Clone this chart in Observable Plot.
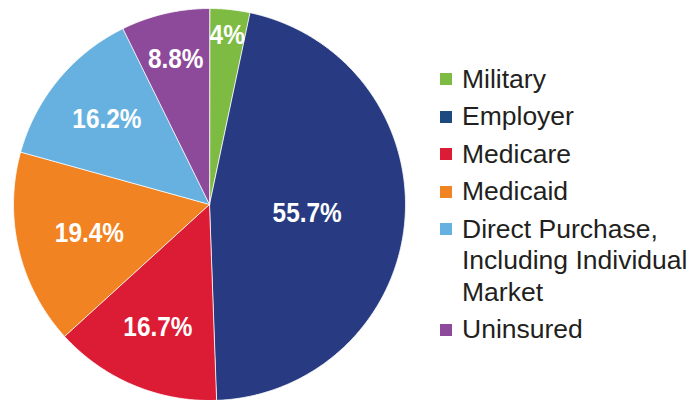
<!DOCTYPE html>
<html>
<head>
<meta charset="utf-8">
<script src="https://cdn.jsdelivr.net/npm/d3@7"></script>
<script src="https://cdn.jsdelivr.net/npm/@observablehq/plot@0.6"></script>
<style>
  html, body { margin: 0; padding: 0; background: #fff; }
  #wrap { position: relative; width: 700px; height: 400px; overflow: hidden; }
  #legend { position: absolute; left: 440px; top: 63.5px; font-family: "Liberation Sans", Arial, Helvetica, sans-serif; font-size: 26.5px; line-height: 31.5px; color: #231f20; white-space: nowrap; }
  .item { display: flex; align-items: flex-start; margin-bottom: 6px; }
  .sw { width: 12px; height: 12px; margin-top: 9.5px; margin-right: 10px; flex: none; }
</style>
</head>
<body>
<div id="wrap"><div id="chart"></div><div id="legend"></div></div>
<script>
// Data
const categories = ["Military", "Employer", "Medicare", "Medicaid", "Direct Purchase, Including Individual Market", "Uninsured"];
const legendLines = [["Military"], ["Employer"], ["Medicare"], ["Medicaid"], ["Direct Purchase,", "Including Individual", "Market"], ["Uninsured"]];
const values = [4, 55.7, 16.7, 19.4, 16.2, 8.8];
const labels = ["4%", "55.7%", "16.7%", "19.4%", "16.2%", "8.8%"];

// Styles / layout
const colors = ["#7dbb42", "#283b82", "#dc1c35", "#f28322", "#67b1e0", "#8e4a9a"];
const legendColors = ["#7dbb42", "#1d4a7e", "#dc1c35", "#f28322", "#67b1e0", "#8e4a9a"];
const labelRadius = [0.87, 0.5, 0.68, 0.63, 0.68, 0.76];

const arcs = d3.pie().sort(null).value(d => d)(values);

// Slice outlines (angles clockwise from 12 o'clock) in unit-circle data space
const slicePts = [];
arcs.forEach((a, i) => {
  const cat = categories[i];
  slicePts.push({cat, x: 0, y: 0});
  const n = Math.max(4, Math.ceil((a.endAngle - a.startAngle) / (Math.PI / 360)));
  for (let k = 0; k <= n; k++) {
    const t = a.startAngle + (a.endAngle - a.startAngle) * k / n;
    slicePts.push({cat, x: Math.sin(t), y: Math.cos(t)});
  }
});

const labelData = arcs.map((a, i) => {
  const m = (a.startAngle + a.endAngle) / 2;
  return {cat: categories[i], label: labels[i], x: labelRadius[i] * Math.sin(m), y: labelRadius[i] * Math.cos(m)};
});

const chart = Plot.plot({
  width: 700,
  height: 400,
  marginLeft: 13,
  marginRight: 295,
  marginTop: 8,
  marginBottom: 0,
  x: {domain: [-1, 1], axis: null},
  y: {domain: [-1, 1], axis: null},
  color: {domain: categories, range: colors},
  marks: [
    Plot.line(slicePts, {x: "x", y: "y", z: "cat", fill: "cat", stroke: "#ffffff", strokeWidth: 0.8, curve: "linear-closed"}),
    Plot.text(labelData, {x: "x", y: "y", text: "label", fill: "white", fontSize: 28, fontWeight: "bold", fontFamily: "'Liberation Sans', Arial, sans-serif", className: "pie-labels"})
  ]
});
// condense label glyphs horizontally (Helvetica Condensed look)
d3.select(chart).selectAll(".pie-labels text").attr("transform", function() {
  return (this.getAttribute("transform") || "") + " scale(0.87,1)";
});
document.getElementById("chart").appendChild(chart);

const legend = document.getElementById("legend");
categories.forEach((c, i) => {
  const item = document.createElement("div");
  item.className = "item";
  const sw = document.createElement("div");
  sw.className = "sw";
  sw.style.background = legendColors[i];
  const tx = document.createElement("div");
  tx.innerHTML = legendLines[i].join("<br>");
  item.appendChild(sw);
  item.appendChild(tx);
  legend.appendChild(item);
});
</script>
</body>
</html>
